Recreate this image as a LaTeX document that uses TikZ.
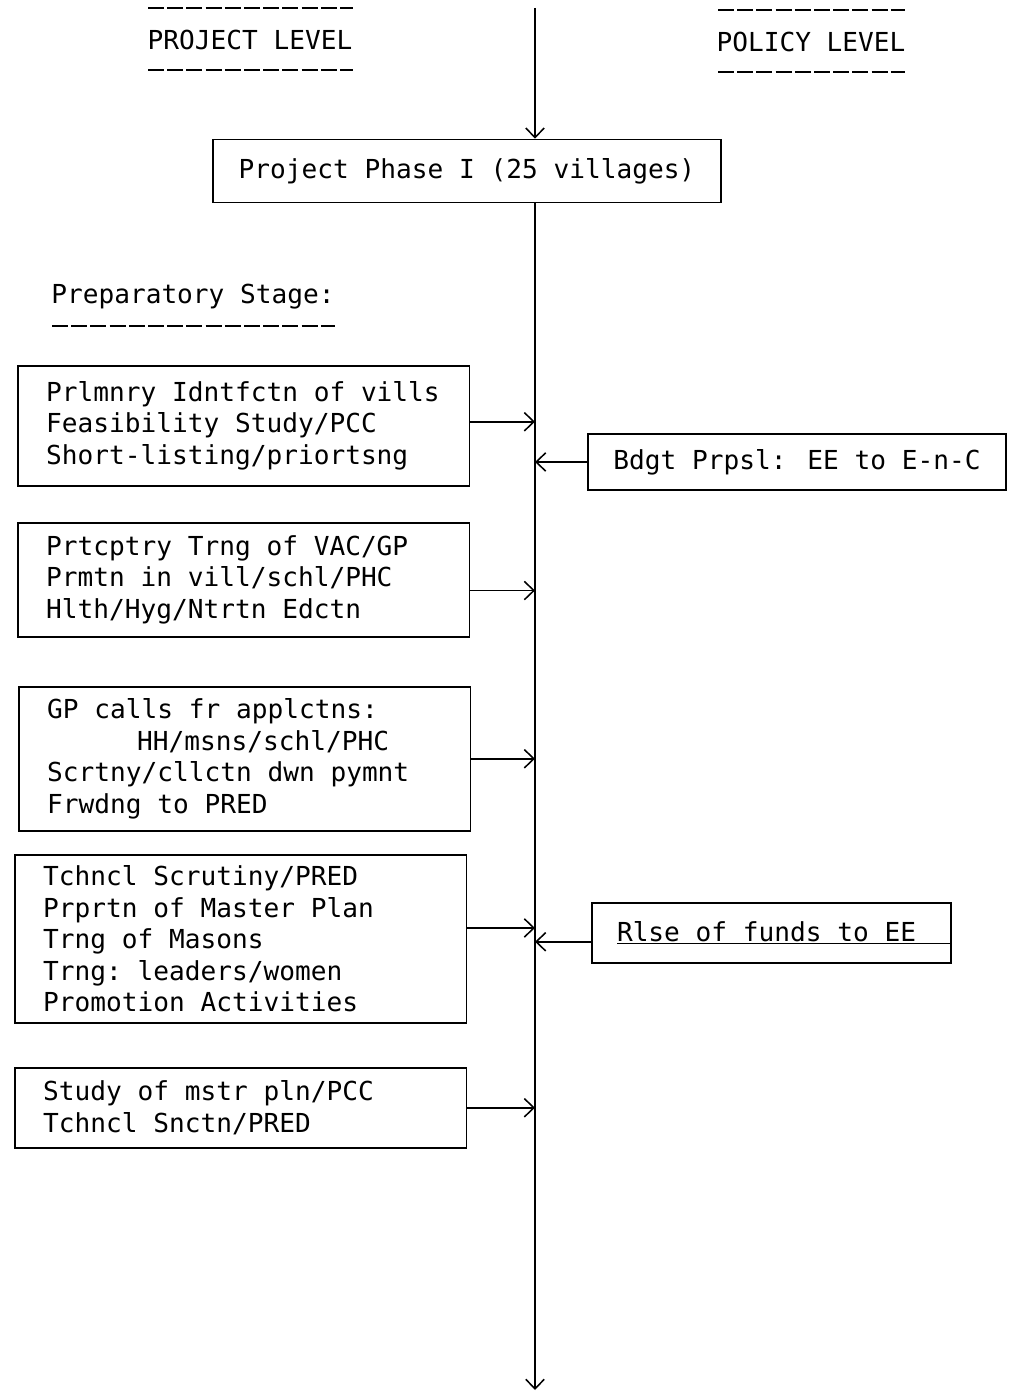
\documentclass[tikz,border=0pt]{standalone}
\usepackage{fontspec}
\setmainfont{DejaVu Sans Mono}[WordSpace={1,0,0}]
\usetikzlibrary{arrows.meta}

\begin{document}
\begin{tikzpicture}[x=1cm,y=1cm,font=\fontsize{18.6}{22.4}\selectfont]
\tikzset{
  stagebox/.style={draw,line width=1.1pt,anchor=north west,align=left,text width=9.87cm,inner xsep=0.71cm,
    execute at begin node={\spaceskip=0.602em\relax\xspaceskip=0.602em\relax}},
  policybox/.style={draw,line width=1.1pt,align=center},
  flow/.style={-{Straight Barb[length=2.4mm,width=4.6mm]},line width=1.1pt},
  typedrule/.style={line width=1.1pt,dash pattern=on 4mm off 0.8mm}
}
\useasboundingbox (0,0) rectangle (25.325,34.9);
\coordinate (n_top) at (13.375,34.7);
\coordinate (n_bottom) at (13.375,0.15);
\node (n_project) at (6.25,33.9) {PROJECT LEVEL};
\node (n_policy) at (20.275,33.85) {POLICY LEVEL};
\draw[typedrule] (3.7,34.7) -- (8.825,34.7);
\draw[typedrule] (3.7,33.15) -- (8.825,33.15);
\draw[typedrule] (17.95,34.65) -- (22.625,34.65);
\draw[typedrule] (17.95,33.1) -- (22.625,33.1);
\node[policybox,minimum width=12.7cm,minimum height=1.575cm] (n_phase) at (11.675,30.625) {Project Phase I (25 villages)};
\node (n_prepstage) at (4.825,27.475) {Preparatory Stage:};
\draw[typedrule] (1.3,26.75) -- (8.375,26.75);
\node[stagebox,minimum height=3.0cm] (n_prep_1) at (0.425,25.775) {Prlmnry Idntfctn of vills\\Feasibility Study/PCC\\Short-listing/priortsng};
\node[stagebox,minimum height=2.85cm] (n_prep_2) at (0.425,21.85) {Prtcptry Trng of VAC/GP\\Prmtn in vill/schl/PHC\\Hlth/Hyg/Ntrtn Edctn};
\node[stagebox,minimum height=3.6cm] (n_prep_3) at (0.45,17.75) {GP calls fr applctns:\\\hspace*{2.25cm}HH/msns/schl/PHC\\Scrtny/cllctn dwn pymnt\\Frwdng to PRED};
\node[stagebox,minimum height=4.2cm] (n_prep_4) at (0.35,13.55) {Tchncl Scrutiny/PRED\\Prprtn of Master Plan\\Trng of Masons\\Trng: leaders/women\\Promotion Activities};
\node[stagebox,minimum height=2.0cm] (n_prep_5) at (0.35,8.225) {Study of mstr pln/PCC\\Tchncl Snctn/PRED};
\node[policybox,minimum width=10.45cm,minimum height=1.4cm] (n_budget) at (19.925,23.35) {Bdgt Prpsl: EE to E-n-C};
\node[policybox,minimum width=8.975cm,minimum height=1.5cm,inner xsep=0pt] (n_release) at (19.2875,11.575) {\hspace*{0.625cm}\underline{\makebox[8.35cm][l]{Rlse of funds to EE}}};
\draw[flow] (n_top) -- (n_phase.north -| n_top);
\draw[flow] (n_phase.south -| n_top) -- (n_bottom);
\draw[flow] ([yshift=1mm]n_prep_1.east) -- ([yshift=1mm]n_prep_1.east -| n_top);
\draw[flow] ([yshift=-2.7mm]n_prep_2.east) -- ([yshift=-2.7mm]n_prep_2.east -| n_top);
\draw[flow] (n_prep_3.east) -- (n_prep_3.east -| n_top);
\draw[flow] ([yshift=2.7mm]n_prep_4.east) -- ([yshift=2.7mm]n_prep_4.east -| n_top);
\draw[flow] (n_prep_5.east) -- (n_prep_5.east -| n_top);
\draw[flow] (n_budget.west) -- (n_budget.west -| n_top);
\draw[flow] ([yshift=-2.2mm]n_release.west) -- ([yshift=-2.2mm]n_release.west -| n_top);
\end{tikzpicture}
\end{document}
